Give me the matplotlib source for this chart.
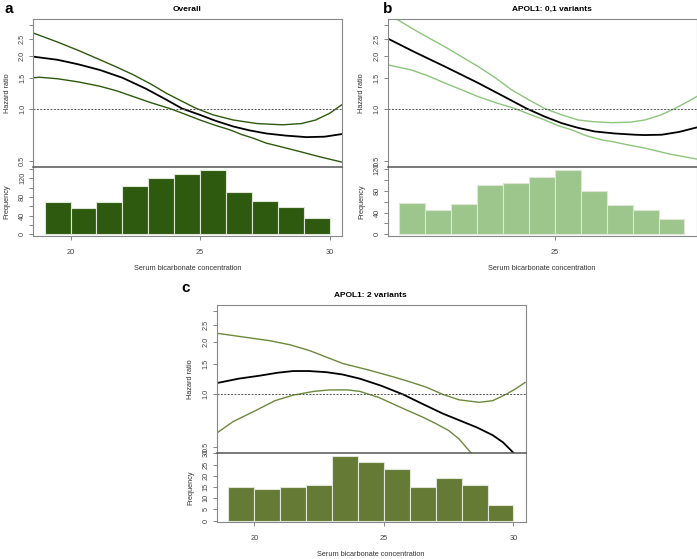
import matplotlib.pyplot as plt
import numpy as np

plt.rcParams['font.family'] = ['Liberation Sans', 'DejaVu Sans']

# histogram bins (serum bicarbonate, 1 unit wide from 19 to 30)
bin_left = [19, 20, 21, 22, 23, 24, 25, 26, 27, 28, 29]

freq_a = [69, 56, 69, 104, 120, 128, 138, 91, 71, 59, 35]
freq_b = [57, 44, 55, 91, 94, 105, 119, 79, 54, 44, 28]
freq_c = [15, 14, 15, 16, 29, 26, 23, 15, 19, 16, 7]

# hazard ratio curves (x, HR)
a_x_mid = [18.57, 19.5, 20.3, 21.14, 22.0, 22.9, 23.71, 24.3, 24.99, 25.6, 26.27, 26.9, 27.55, 28.3, 29.1, 29.8, 30.46]
a_hr_mid = [1.98, 1.90, 1.79, 1.66, 1.50, 1.30, 1.12, 1.0, 0.92, 0.85, 0.79, 0.75, 0.72, 0.70, 0.686, 0.69, 0.714]
a_x_up = [18.57, 19.5, 20.3, 21.14, 21.8, 22.42, 23.1, 23.71, 24.3, 24.86, 25.5, 26.27, 27.2, 28.18, 28.9, 29.46, 30.0, 30.46]
a_hr_up = [2.70, 2.40, 2.15, 1.90, 1.72, 1.56, 1.38, 1.22, 1.10, 1.0, 0.92, 0.86, 0.82, 0.807, 0.82, 0.86, 0.94, 1.05]
a_x_lo = [18.57, 18.8, 19.5, 20.3, 21.14, 21.8, 22.42, 23.1, 23.83, 24.4, 24.99, 25.6, 26.14, 26.6, 27.04, 27.55, 28.2, 28.83, 29.6, 30.46]
a_hr_lo = [1.50, 1.51, 1.48, 1.42, 1.34, 1.26, 1.17, 1.08, 1.0, 0.93, 0.86, 0.80, 0.756, 0.71, 0.677, 0.634, 0.60, 0.568, 0.53, 0.494]

b_x_mid = [18.54, 19.6, 20.75, 21.4, 22.04, 22.9, 23.91, 24.6, 25.26, 25.9, 26.54, 27.3, 28.09, 28.47, 29.12, 29.8, 30.47]
b_hr_mid = [2.52, 2.10, 1.74, 1.56, 1.40, 1.20, 1.0, 0.90, 0.825, 0.775, 0.739, 0.72, 0.708, 0.705, 0.708, 0.735, 0.779]
b_x_up = [18.54, 18.95, 19.8, 20.75, 21.4, 22.04, 22.7, 23.33, 24.0, 24.61, 25.26, 25.9, 26.5, 27.19, 27.9, 28.47, 29.1, 29.63, 30.1, 30.47]
b_hr_up = [3.45, 3.21, 2.70, 2.26, 1.98, 1.74, 1.50, 1.28, 1.12, 1.0, 0.92, 0.86, 0.84, 0.83, 0.835, 0.86, 0.92, 1.0, 1.09, 1.17]
b_x_lo = [18.54, 19.47, 20.1, 20.75, 21.4, 22.04, 22.8, 23.46, 24.0, 24.61, 25.1, 25.64, 26.2, 26.8, 27.19, 27.8, 28.47, 29.4, 30.47]
b_hr_lo = [1.78, 1.66, 1.54, 1.40, 1.28, 1.17, 1.07, 1.0, 0.93, 0.86, 0.80, 0.756, 0.70, 0.662, 0.648, 0.62, 0.594, 0.55, 0.514]

c_x_mid = [18.55, 19.4, 20.22, 20.9, 21.5, 22.1, 22.78, 23.4, 24.07, 24.9, 25.73, 26.5, 27.27, 27.91, 28.6, 29.2, 29.6, 30.0]
c_hr_mid = [1.16, 1.23, 1.28, 1.33, 1.36, 1.36, 1.34, 1.30, 1.23, 1.12, 1.0, 0.88, 0.776, 0.71, 0.645, 0.583, 0.53, 0.462]
c_x_up = [18.55, 19.5, 20.6, 21.4, 22.14, 22.8, 23.43, 24.4, 25.36, 26.0, 26.63, 27.27, 27.9, 28.68, 29.2, 29.71, 30.1, 30.45]
c_hr_up = [2.24, 2.14, 2.03, 1.92, 1.78, 1.63, 1.50, 1.38, 1.26, 1.18, 1.10, 1.0, 0.93, 0.90, 0.92, 1.0, 1.08, 1.17]
c_x_lo = [18.55, 19.2, 20.0, 20.8, 21.5, 22.3, 22.91, 23.6, 24.07, 24.8, 25.36, 25.9, 26.5, 27.0, 27.5, 27.9, 28.36]
c_hr_lo = [0.60, 0.70, 0.80, 0.92, 0.99, 1.04, 1.06, 1.06, 1.04, 0.96, 0.88, 0.81, 0.74, 0.68, 0.62, 0.555, 0.462]

col_a = '#2d5a0e'
col_b = '#9cc68c'
col_c = '#657a35'
line_b = '#8cc67a'
line_c = '#6b8a3a'

fig = plt.figure(figsize=(6.97, 5.59), dpi=100)


def panel(left, bottom_hr, h_hr, bottom_h, h_h, xm, ym, xu, yu, xl, yl, freq, bcol, lcol,
          title, title_x, letter, letter_xy, hmax, hticks, hlabels, xticks):
    w = 0.4433
    hx = fig.add_axes([left, bottom_h, w, h_h])
    hx.bar(bin_left, freq, width=1.0, align='edge', color=bcol, edgecolor='#dfe6d8', linewidth=0.8)
    hx.set_xlim(18.55, 30.47)
    hx.set_ylim(-hmax * 0.025, hmax)
    hx.set_yticks(hticks)
    hx.set_yticklabels(hlabels, rotation=90, va='center')
    hx.set_xticks(xticks)
    hx.set_xticklabels([str(t) for t in xticks])
    hx.set_ylabel('Frequency', fontsize=5.3, color='#333333', labelpad=6)
    hx.set_xlabel('Serum bicarbonate concentration', fontsize=5.3, color='#333333', labelpad=7)
    hx.tick_params(axis='both', labelsize=5.3, length=3, width=0.5, color='#555555', labelcolor='#444444', pad=2)
    hx.tick_params(axis='x', pad=6)
    hx.spines['top'].set_visible(False)
    for s in ['left', 'right', 'bottom']:
        hx.spines[s].set_color('#888888')
        hx.spines[s].set_linewidth(0.8)

    ax = fig.add_axes([left, bottom_hr, w, h_hr])
    ax.patch.set_visible(False)
    ax.set_yscale('log')
    ax.plot(xm, ym, color='black', lw=1.3)
    ax.plot(xu, yu, color=lcol, lw=1.0)
    ax.plot(xl, yl, color=lcol, lw=1.0)
    ax.axhline(1.0, color='#555555', lw=0.7, ls=(0, (2, 1.5)))
    ax.set_xlim(18.55, 30.47)
    ax.set_ylim(0.463, 3.24)
    ax.set_yticks([0.5, 1.0, 1.5, 2.0, 2.5, 3.0])
    ax.set_yticklabels(['0.5', '1.0', '1.5', '2.0', '2.5', ''], rotation=90, va='center')
    ax.yaxis.set_minor_locator(plt.NullLocator())
    ax.set_xticks([])
    ax.set_ylabel('Hazard ratio', fontsize=5.3, color='#333333', labelpad=6)
    ax.tick_params(axis='y', labelsize=5.3, length=3, width=0.5, color='#555555', labelcolor='#444444', pad=2)
    for s in ['top', 'left', 'right']:
        ax.spines[s].set_color('#888888')
        ax.spines[s].set_linewidth(0.8)
    ax.spines['bottom'].set_color('#555555')
    ax.spines['bottom'].set_linewidth(1.1)

    fig.text(title_x, bottom_hr + h_hr + 0.012, title, ha='center', va='bottom', fontsize=6, fontweight='bold')
    fig.text(letter_xy[0], letter_xy[1], letter, ha='left', va='top', fontsize=11, fontweight='bold')


panel(0.0473, 0.7013, 0.2642, 0.5778, 0.1235, a_x_mid, a_hr_mid, a_x_up, a_hr_up, a_x_lo, a_hr_lo,
      freq_a, col_a, col_a, 'Overall', 0.269, 'a', (0.006, 0.997),
      144, [0, 20, 40, 60, 80, 100, 120, 140], ['0', '', '40', '', '80', '', '120', ''], [20, 25, 30])
panel(0.5562, 0.7013, 0.2642, 0.5778, 0.1235, b_x_mid, b_hr_mid, b_x_up, b_hr_up, b_x_lo, b_hr_lo,
      freq_b, col_b, line_b, 'APOL1: 0,1 variants', 0.792, 'b', (0.549, 0.997),
      124, [0, 20, 40, 60, 80, 100, 120], ['0', '', '40', '', '80', '', '120'], [25])
panel(0.3109, 0.1902, 0.2637, 0.0657, 0.1245, c_x_mid, c_hr_mid, c_x_up, c_hr_up, c_x_lo, c_hr_lo,
      freq_c, col_c, line_c, 'APOL1: 2 variants', 0.531, 'c', (0.260, 0.497),
      30.3, [0, 5, 10, 15, 20, 25, 30], ['0', '5', '10', '15', '20', '25', '30'], [20, 25, 30])

plt.savefig('out.png', dpi=100)
